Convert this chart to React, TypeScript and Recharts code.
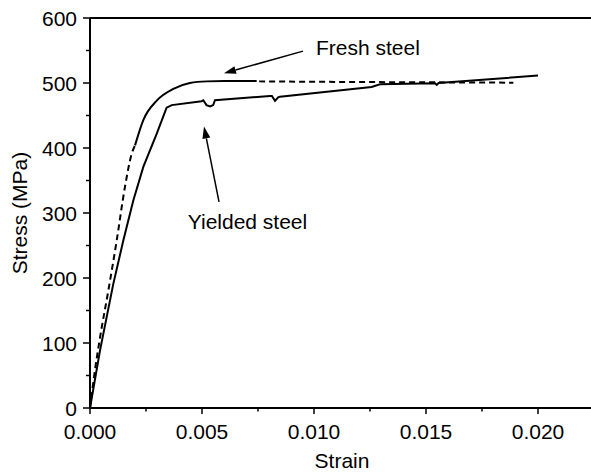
import React from "react";
import {
  LineChart,
  Line,
  XAxis,
  YAxis,
  ReferenceLine,
  ReferenceDot,
} from "recharts";

// fresh steel: dashed elastic part, solid yield knee, dashed plateau
const freshElasticStrain = [0, 0.0002, 0.00045, 0.00082, 0.00118, 0.00156, 0.00186, 0.00201];
const freshElasticStress = [0, 53, 109, 181, 255, 340, 391, 404];

const freshKneeStrain = [0.00201, 0.00238, 0.00298, 0.00372, 0.00446, 0.00521, 0.006, 0.00744];
const freshKneeStress = [404, 443, 473, 491, 500, 502.5, 503, 503];

const freshPlateauStrain = [0.00755, 0.012, 0.0155, 0.0189];
const freshPlateauStress = [502.5, 501.5, 501, 500.5];

// yielded steel, one solid line with small dips
const yieldedStrain = [
  0, 0.00045, 0.00104, 0.00149, 0.00193, 0.00238, 0.00298, 0.00342, 0.00365,
  0.00498, 0.00506, 0.0052, 0.00536, 0.0055, 0.00558, 0.00804, 0.00812, 0.00826,
  0.0084, 0.00848, 0.01257, 0.01295, 0.0154, 0.01548, 0.01556, 0.02,
];
const yieldedStress = [
  0, 89, 191, 258, 319, 371, 422, 462, 466,
  472, 473.5, 466, 464, 466, 473.5, 480, 480, 472.5,
  478, 479, 493.8, 498, 499.5, 497, 500, 511.4,
];

const xTicks = [0, 0.0025, 0.005, 0.0075, 0.01, 0.0125, 0.015, 0.0175, 0.02];
const xMajor = [0, 0.005, 0.01, 0.015, 0.02];
const yTicks = [0, 50, 100, 150, 200, 250, 300, 350, 400, 450, 500, 550, 600];
const yMajor = [0, 100, 200, 300, 400, 500, 600];

// annotation arrows: [fromStrain, fromStress, toStrain, toStress]
const freshArrow = [0.00951, 549, 0.00598, 515];
const yieldedArrow = [0.00576, 317, 0.00509, 433];
const freshLabel = { text: "Fresh steel", strain: 0.01009, stress: 542.6 };
const yieldedLabel = { text: "Yielded steel", strain: 0.00703, stress: 275 };

const zip = (xs: number[], ys: number[]) => xs.map((x, i) => ({ x, y: ys[i] }));

const FONT = "'Liberation Sans', Arial, Helvetica, sans-serif";
const FS = 21;

const YTick = (props: any) => {
  const { x, y, payload } = props;
  const major = yMajor.includes(payload.value);
  const ax = x + 13;
  return (
    <g>
      <line x1={ax} x2={ax - (major ? 7 : 4)} y1={y} y2={y} stroke="#000" strokeWidth={1.5} />
      {major && (
        <text x={x} y={y} dy="0.36em" textAnchor="end" fontSize={FS} fontFamily={FONT} fill="#000">
          {payload.value}
        </text>
      )}
    </g>
  );
};

const XTick = (props: any) => {
  const { x, y, payload } = props;
  const major = xMajor.some((m) => Math.abs(m - payload.value) < 1e-9);
  return (
    <g>
      <line x1={x} x2={x} y1={y} y2={y + (major ? 6 : 3.5)} stroke="#000" strokeWidth={1.5} />
      {major && (
        <text x={x} y={y + 31} textAnchor="middle" fontSize={FS} fontFamily={FONT} fill="#000">
          {payload.value.toFixed(3)}
        </text>
      )}
    </g>
  );
};

const Arrow = (props: any) => {
  const { x1, y1, x2, y2 } = props;
  const ang = Math.atan2(y2 - y1, x2 - x1);
  const len = 12;
  const half = 4;
  const bx = x2 - len * Math.cos(ang);
  const by = y2 - len * Math.sin(ang);
  const px = -Math.sin(ang) * half;
  const py = Math.cos(ang) * half;
  return (
    <g>
      <line x1={x1} y1={y1} x2={bx} y2={by} stroke="#000" strokeWidth={1.5} />
      <polygon points={`${x2},${y2} ${bx + px},${by + py} ${bx - px},${by - py}`} fill="#000" />
    </g>
  );
};

const Label = (anchor: "start" | "middle", text: string) => (props: any) => (
  <text x={props.cx} y={props.cy} textAnchor={anchor} fontSize={FS} fontFamily={FONT} fill="#000">
    {text}
  </text>
);

const AxisTitle = (props: any) => {
  const { viewBox, value, vertical } = props;
  if (vertical) {
    const cx = viewBox.x + 19;
    const cy = viewBox.y + viewBox.height / 2;
    return (
      <text x={cx} y={cy} dy="0.36em" transform={`rotate(-90 ${cx} ${cy})`} textAnchor="middle" fontSize={FS} fontFamily={FONT} fill="#000">
        {value}
      </text>
    );
  }
  return (
    <text x={viewBox.x + viewBox.width / 2} y={468} textAnchor="middle" fontSize={FS} fontFamily={FONT} fill="#000">
      {value}
    </text>
  );
};

export default function App() {
  return (
    <div style={{ position: "absolute", left: 0, top: 0, width: 591, height: 473, overflow: "hidden", background: "#fff" }}>
      <LineChart width={600} height={473} margin={{ top: 18, right: 6, bottom: 0, left: 0 }}>
        <XAxis
          type="number"
          dataKey="x"
          domain={[0, 0.0225]}
          ticks={xTicks}
          tick={<XTick />}
          tickLine={false}
          tickSize={0}
          tickMargin={0}
          height={65}
          axisLine={{ stroke: "#000", strokeWidth: 2 }}
          label={<AxisTitle value="Strain" />}
          interval={0}
        />
        <YAxis
          type="number"
          dataKey="y"
          domain={[0, 600]}
          ticks={yTicks}
          tick={<YTick />}
          tickLine={false}
          tickSize={0}
          tickMargin={13}
          width={90}
          axisLine={{ stroke: "#000", strokeWidth: 2 }}
          interval={0}
          label={<AxisTitle value="Stress (MPa)" vertical />}
        />
        <ReferenceLine y={600} stroke="#000" strokeWidth={2} />
        <Line data={zip(freshElasticStrain, freshElasticStress)} dataKey="y" type="monotone" stroke="#000" strokeWidth={2} strokeDasharray="6 4" dot={false} isAnimationActive={false} />
        <Line data={zip(freshKneeStrain, freshKneeStress)} dataKey="y" type="monotone" stroke="#000" strokeWidth={2} dot={false} isAnimationActive={false} />
        <Line data={zip(freshPlateauStrain, freshPlateauStress)} dataKey="y" type="monotone" stroke="#000" strokeWidth={2} strokeDasharray="6 4" dot={false} isAnimationActive={false} />
        <Line data={zip(yieldedStrain, yieldedStress)} dataKey="y" type="linear" stroke="#000" strokeWidth={2} dot={false} isAnimationActive={false} />
        <ReferenceLine
          segment={[{ x: freshArrow[0], y: freshArrow[1] }, { x: freshArrow[2], y: freshArrow[3] }]}
          ifOverflow="visible"
          shape={<Arrow />}
        />
        <ReferenceLine
          segment={[{ x: yieldedArrow[0], y: yieldedArrow[1] }, { x: yieldedArrow[2], y: yieldedArrow[3] }]}
          ifOverflow="visible"
          shape={<Arrow />}
        />
        <ReferenceDot x={freshLabel.strain} y={freshLabel.stress} ifOverflow="visible" shape={Label("start", freshLabel.text)} />
        <ReferenceDot x={yieldedLabel.strain} y={yieldedLabel.stress} ifOverflow="visible" shape={Label("middle", yieldedLabel.text)} />
      </LineChart>
    </div>
  );
}
